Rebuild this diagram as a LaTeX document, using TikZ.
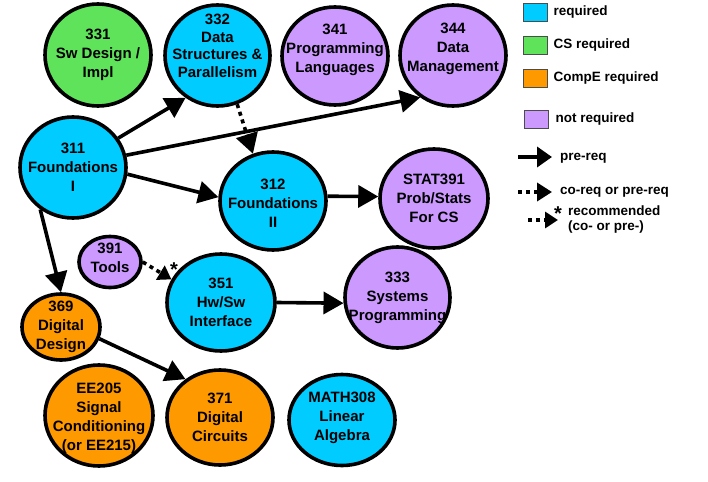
\documentclass[tikz,border=0pt]{standalone}
\usepackage{fontspec}
\setmainfont{Liberation Sans}
\usetikzlibrary{arrows.meta, positioning, shapes.geometric}

\definecolor{reqblue}{HTML}{00CCFF}
\definecolor{csgreen}{HTML}{5EE35A}
\definecolor{ceorange}{HTML}{FF9900}
\definecolor{optpurple}{HTML}{CC99FF}

\begin{document}
\begin{tikzpicture}[
    x=1pt, y=-1pt,
    font=\bfseries\fontsize{15}{19}\selectfont,
    course/.style={ellipse, draw, line width=3.6pt, inner sep=0pt},
    req/.style={course, fill=reqblue},
    csreq/.style={course, fill=csgreen},
    cereq/.style={course, fill=ceorange},
    opt/.style={course, fill=optpurple},
    sz/.style 2 args={minimum width=#1pt, minimum height=#2pt},
    lbl/.style={align=center, inner sep=0pt},
    starlbl/.style={inner sep=0pt, font=\bfseries\fontsize{20}{20}\selectfont},
    arr/.style={-{Triangle[length=20pt, width=22pt]}, line width=3.6pt},
    dotarr/.style={arr, dash pattern=on 4pt off 4pt},
    smallhead/.style={-{Triangle[length=13pt, width=16pt]}},
    keybox/.style={draw=black!70, line width=0.8pt, minimum width=24pt,
      minimum height=18pt, inner sep=0pt},
    keytext/.style={font=\bfseries\fontsize{13.5}{15}\selectfont,
      align=left, inner sep=0pt}
  ]
  \fill[white] (0,0) rectangle (708,481);
  \useasboundingbox (0,0) rectangle (708,481);

  % top row
  \node[csreq, sz={106}{102}, label={[lbl]center:331\\Sw Design /\\Impl}] (c331) at (98,55) {};
  \node[req, sz={105}{101}, label={[lbl, yshift=9.5pt, font=\bfseries\fontsize{15}{17.5}\selectfont]center:332\\Data\\Structures \&\\Parallelism}] (c332) at (217.5,55.5) {};
  \node[opt, sz={106}{98}, label={[lbl, yshift=6.5pt]center:341\\Programming\\Languages}] (c341) at (335,56) {};
  \node[opt, sz={106}{101}, label={[lbl, yshift=6.5pt]center:344\\Data\\Management}] (c344) at (453,55.5) {};

  % middle rows
  \node[req, sz={106}{101}, label={[lbl]center:311\\Foundations\\I}] (c311) at (73,167.5) {};
  \node[req, sz={106}{98}, label={[lbl, yshift=-2pt]center:312\\Foundations\\II}] (c312) at (273,201) {};
  \node[opt, sz={108}{99}, label={[lbl]center:STAT391\\Prob/Stats\\For CS}] (stat391) at (434,198.5) {};
  \node[opt, sz={62}{51}, label={[lbl, yshift=4pt]center:391\\Tools}] (c391) at (110,262) {};
  \node[req, sz={108}{97}, label={[lbl]center:351\\Hw/Sw\\Interface}] (c351) at (221,302.5) {};
  \node[opt, sz={105}{101}, label={[lbl]center:333\\Systems\\Programming}] (c333) at (397.5,297.5) {};
  \node[cereq, sz={78}{66}, label={[lbl]center:369\\Digital\\Design}] (c369) at (61,327) {};

  % bottom row
  \node[cereq, sz={108}{101}, label={[lbl, yshift=-2.5pt]center:EE205\\Signal\\Conditioning\\(or EE215)}] (ee205) at (99,415.5) {};
  \node[cereq, sz={106}{95}, label={[lbl]center:371\\Digital\\Circuits}] (c371) at (220,417.5) {};
  \node[req, sz={106}{91}, label={[lbl, yshift=2.5pt]center:MATH308\\Linear\\Algebra}] (math308) at (342,420) {};

  % prerequisites
  \draw[arr] (c311.33) -- (c332.233);
  \draw[arr] (c311.13) -- (c344.232);
  \draw[dotarr] (c332.-68) -- (c312.113);
  \draw[arr] (c311.-7) -- (c312.176);
  \draw[arr] (c311.232) -- (c369.90);
  \draw[arr] (c312.5) -- (stat391.178);
  \draw[dotarr, smallhead] (c391.0) -- (c351.155);
  \node[starlbl] (rec) at (174,270) {*};
  \draw[arr] (c351.0) -- (c333.186);
  \draw[arr] (c369.-17) -- (c371.132);

  % legend
  \node[keybox, fill=reqblue] (kreq) at (535,12) {};
  \node[keybox, fill=csgreen] (kcs) at (535,45.5) {};
  \node[keybox, fill=ceorange] (kce) at (535,78) {};
  \node[keybox, fill=optpurple] (kopt) at (536,119) {};
  \node[keytext, right=6pt of kreq] (treq) {required};
  \node[keytext, right=6pt of kcs] (tcs) {CS required};
  \node[keytext, right=6pt of kce] (tce) {CompE required};
  \node[keytext, right=7pt of kopt] (topt) {not required};

  \coordinate (pre a) at (518,157);
  \coordinate (pre b) at (552,157);
  \coordinate (co a) at (518,192);
  \coordinate (co b) at (552,192);
  \coordinate (rc a) at (528,220);
  \coordinate (rc b) at (558,220);
  \draw[arr, -{Triangle[length=15pt, width=20pt]}] (pre a) -- (pre b);
  \draw[dotarr, -{Triangle[length=15pt, width=18pt]}] (co a) -- (co b);
  \draw[dotarr, smallhead] (rc a) -- (rc b);
  \node[starlbl] (rcstar) at (558,213.5) {*};
  \node[keytext, anchor=west] (tpre) at (560,158) {pre-req};
  \node[keytext, anchor=west] (tco) at (560,192) {co-req or pre-req};
  \node[keytext, anchor=west] (trc) at (568,219.5) {recommended\\(co- or pre-)};
\end{tikzpicture}
\end{document}
